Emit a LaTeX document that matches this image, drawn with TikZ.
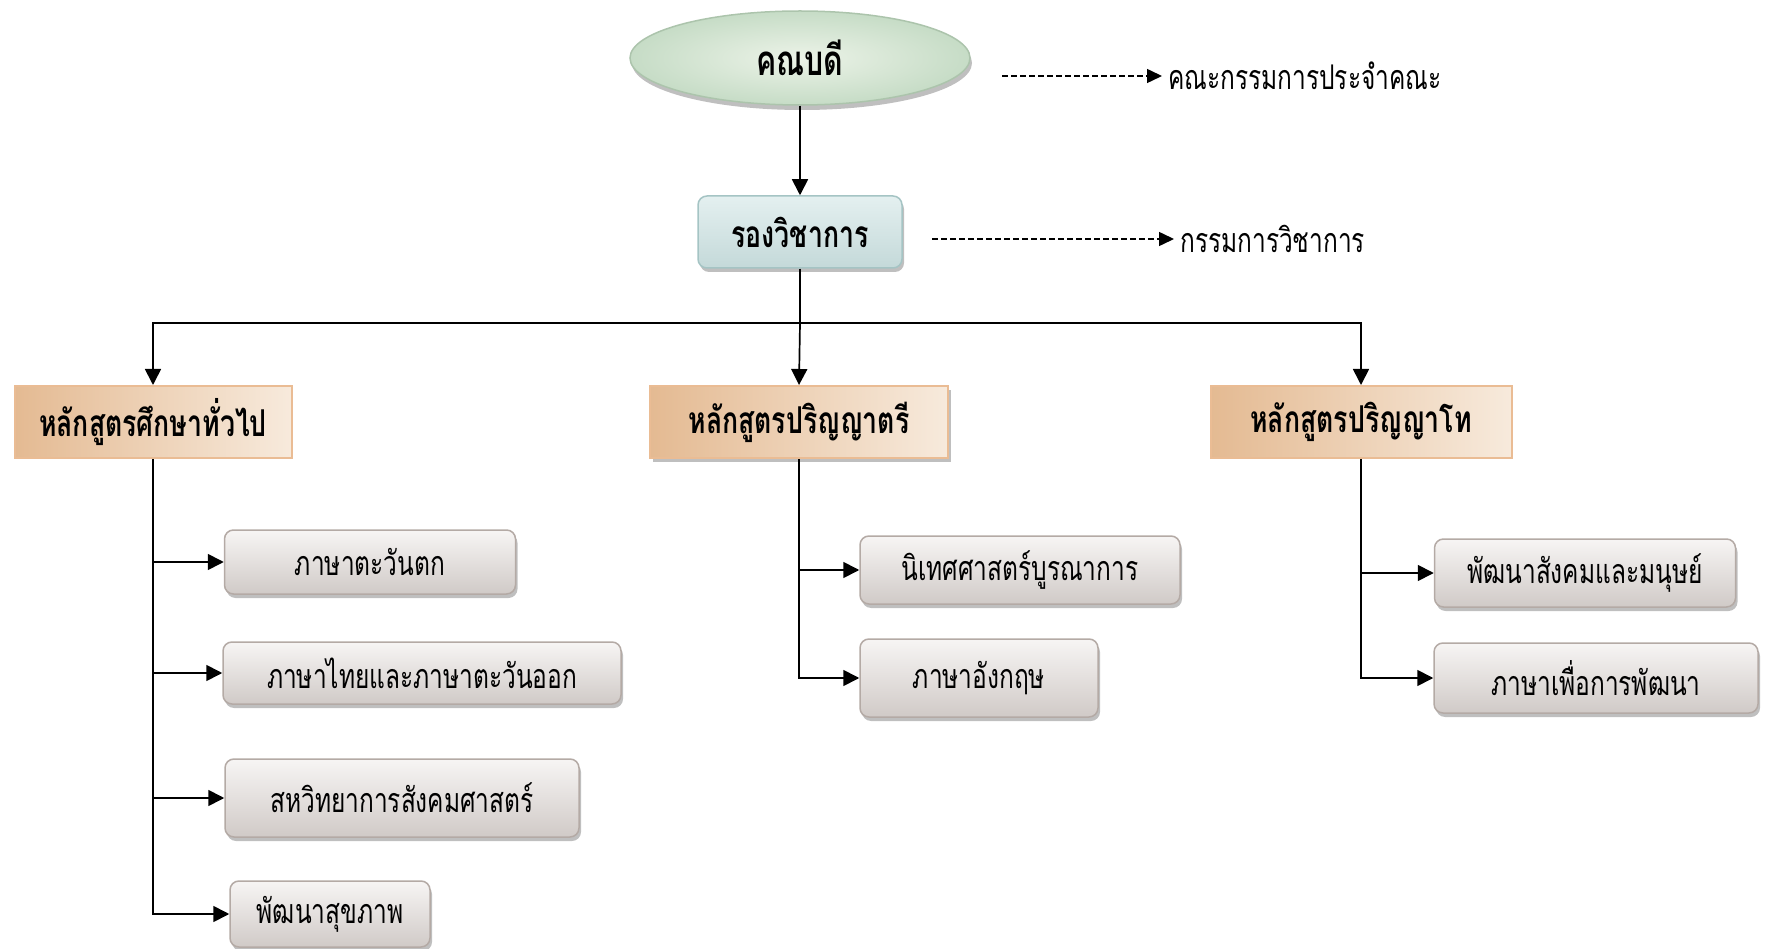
\documentclass[tikz,border=0pt]{standalone}
\usepackage{fontspec}
\usepackage{tikz}
\usetikzlibrary{shapes,arrows.meta,shadows}
\newfontfamily\thaifont[Script=Thai,FakeStretch=0.72]{Loma}
\newcommand{\thtext}[1]{{\thaifont #1}}
\definecolor{deanout}{RGB}{198,220,198}
\definecolor{deanin}{RGB}{236,243,232}
\definecolor{deanline}{RGB}{172,196,172}
\definecolor{vptop}{RGB}{228,240,240}
\definecolor{vpbot}{RGB}{196,217,217}
\definecolor{vpline}{RGB}{165,196,196}
\definecolor{progdark}{RGB}{228,186,146}
\definecolor{proglight}{RGB}{247,234,220}
\definecolor{progline}{RGB}{234,188,148}
\definecolor{subtop}{RGB}{247,245,244}
\definecolor{subbot}{RGB}{208,202,199}
\definecolor{subline}{RGB}{180,170,165}
\tikzstyle{subvertex}=[rectangle,rounded corners=9pt,draw=subline,line width=1.5pt,top color=subtop,bottom color=subbot,inner sep=0pt,drop shadow={shadow xshift=2pt,shadow yshift=-4pt},font=\fontsize{34}{40}\selectfont]
\newcommand{\tikzpicunit}{1pt}

\begin{document}
\begin{tikzpicture}[x=\tikzpicunit,y=-\tikzpicunit]
    \tikzstyle{deanvertex}=[ellipse,draw=deanline,line width=1.5pt,inner color=deanin,outer color=deanout,minimum width=340pt,minimum height=94pt,inner sep=0pt,drop shadow={shadow xshift=2pt,shadow yshift=-5pt},font=\fontsize{42}{48}\selectfont\bfseries]
    \tikzstyle{vpvertex}=[rectangle,rounded corners=9pt,draw=vpline,line width=1.5pt,top color=vptop,bottom color=vpbot,minimum width=204pt,minimum height=72pt,inner sep=0pt,drop shadow={shadow xshift=2pt,shadow yshift=-4pt},font=\fontsize{37}{43}\selectfont\bfseries]
    \tikzstyle{progvertex}=[rectangle,draw=progline,line width=2pt,left color=progdark,right color=proglight,minimum height=72pt,inner sep=0pt,font=\fontsize{37}{43}\selectfont\bfseries]
    \tikzstyle{conn}=[line width=1.7pt,-{Triangle[length=16pt,width=16pt]}]
    \tikzstyle{dconn}=[line width=1.5pt,dash pattern=on 6pt off 3pt,shorten >=6pt,-{Triangle[length=15pt,width=14pt]}]
    \tikzstyle{note}=[anchor=west,inner sep=0pt,font=\fontsize{34}{40}\selectfont]

    \useasboundingbox (0,0) rectangle (1765,949);

    \node[deanvertex] (dn) at (800,58)   {\thtext{คณบดี}};
    \node[vpvertex] (vp) at (800,232)   {\thtext{รองวิชาการ}};

    \node[progvertex,minimum width=277pt] (p0) at (153,422)   {\thtext{หลักสูตรศึกษาทั่วไป}};
    \node[progvertex,minimum width=298pt,drop shadow={shadow xshift=3pt,shadow yshift=-4pt}] (p1) at (799,422)   {\thtext{หลักสูตรปริญญาตรี}};
    \node[progvertex,minimum width=301pt] (p2) at (1361,422)   {\thtext{หลักสูตรปริญญาโท}};

    \node[subvertex,minimum width=291pt,minimum height=64pt] (g1) at (370,562)   {\thtext{ภาษาตะวันตก}};
    \node[subvertex,minimum width=398pt,minimum height=62pt] (g2) at (422,673)   {\thtext{ภาษาไทยและภาษาตะวันออก}};
    \node[subvertex,minimum width=354pt,minimum height=78pt] (g3) at (402,798)   {\thtext{สหวิทยาการสังคมศาสตร์}};
    \node[subvertex,minimum width=200pt,minimum height=66pt] (g4) at (330,914)   {\thtext{พัฒนาสุขภาพ}};

    \node[subvertex,minimum width=320pt,minimum height=68pt] (b1) at (1020,570)   {\thtext{นิเทศศาสตร์บูรณาการ}};
    \node[subvertex,minimum width=238pt,minimum height=78pt] (b2) at (979,678)   {\thtext{ภาษาอังกฤษ}};

    \node[subvertex,minimum width=301pt,minimum height=68pt] (m1) at (1585,573)   {\thtext{พัฒนาสังคมและมนุษย์}};
    \node[subvertex,minimum width=324pt,minimum height=70pt] (m2) at (1596,678)   {\thtext{ภาษาเพื่อการพัฒนา}};

    \node[note] (t1) at (1168,76)   {\thtext{คณะกรรมการประจำคณะ}};
    \node[note] (t2) at (1180,239)   {\thtext{กรรมการวิชาการ}};
    \coordinate (d1) at (1002,76);
    \coordinate (d2) at (932,239);
    \coordinate (bus) at (800,323);

    \draw [dconn] (d1) -- (t1.west);
    \draw [dconn] (d2) -- (t2.west);

    \draw [conn] (dn) -- (vp);
    \draw [line width=1.7pt] (vp.south) -- (bus);
    \draw [conn] (bus) -| (p0.north);
    \draw [conn] (bus) -- (p1.north);
    \draw [conn] (bus) -| (p2.north);

    \draw [conn] (p0.south) |- (g4.west);
    \draw [conn] (p0.south |- g1.west) -- (g1.west);
    \draw [conn] (p0.south |- g2.west) -- (g2.west);
    \draw [conn] (p0.south |- g3.west) -- (g3.west);

    \draw [conn] (p1.south) |- (b2.west);
    \draw [conn] (p1.south |- b1.west) -- (b1.west);

    \draw [conn] (p2.south) |- (m2.west);
    \draw [conn] (p2.south |- m1.west) -- (m1.west);
   
\end{tikzpicture}
\end{document}
